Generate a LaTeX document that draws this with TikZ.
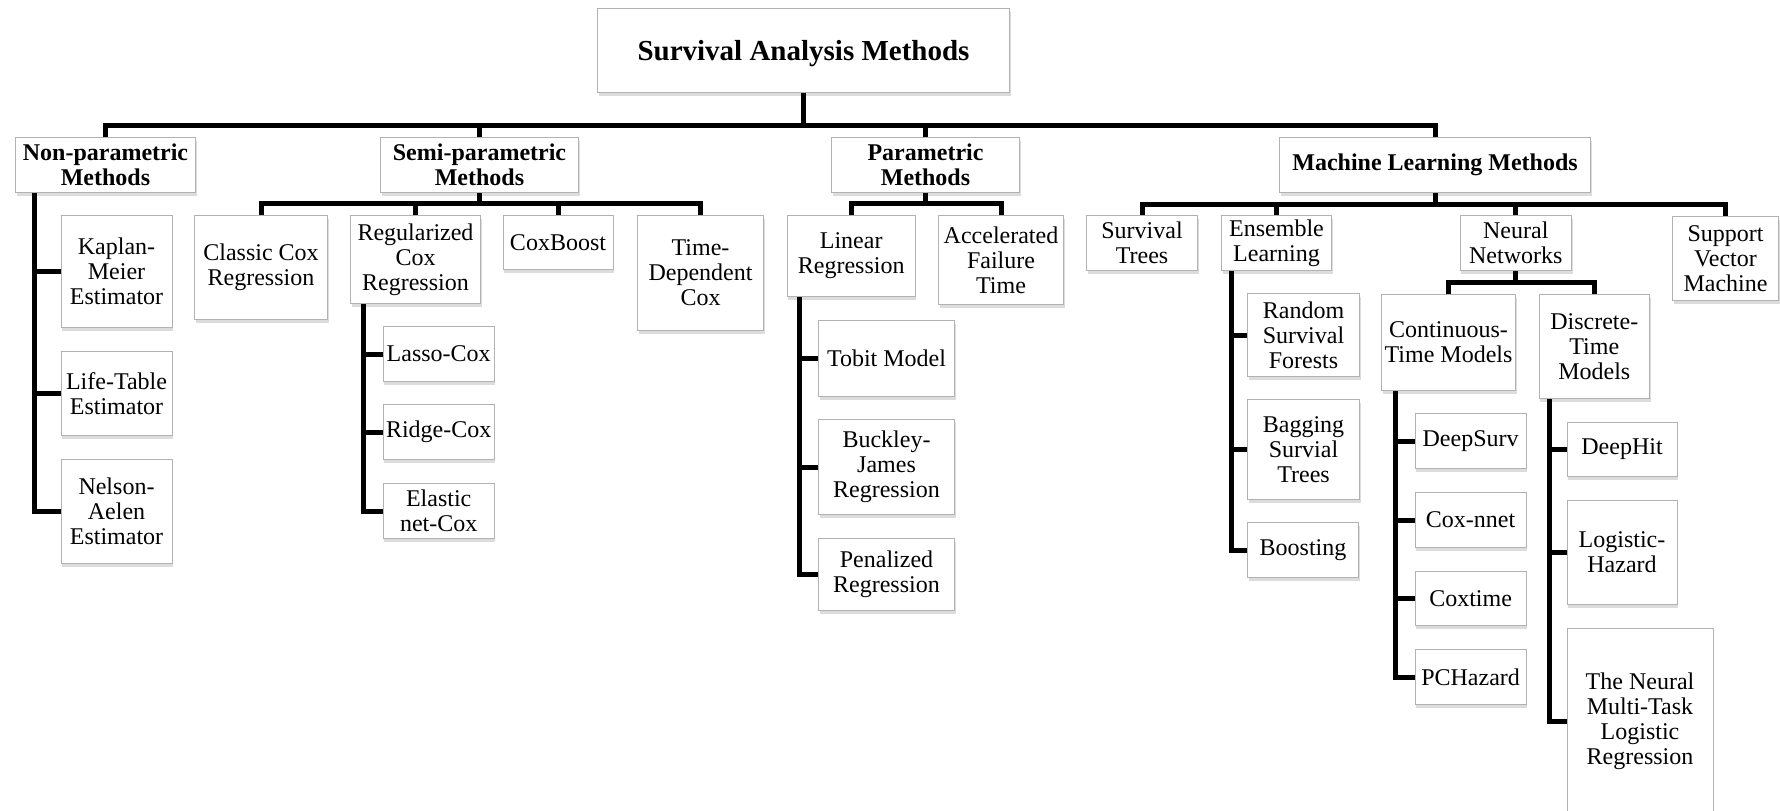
\documentclass[tikz,border=0pt]{standalone}
\usepackage{fontspec}
\setmainfont{Liberation Serif}
\usepackage{tikz}
\usetikzlibrary{shadows}

\begin{document}
\begin{tikzpicture}[x=1pt,y=-1pt,
    box/.style={draw=gray!60,line width=1pt,fill=white,align=center,inner sep=0pt,anchor=north west,
      font=\fontsize{24}{25}\selectfont,
      drop shadow={shadow xshift=1pt,shadow yshift=-3pt,opacity=.3,fill=black!45}},
    head/.style={box,font=\fontsize{24}{25}\selectfont\bfseries},
    link/.style={line width=5pt,line join=miter}]
    \clip (0,0) rectangle (1780,811);
    \fill[white] (0,0) rectangle (1780,811);
    \node[head,minimum width=412pt,minimum height=84pt,text depth=0pt,font=\fontsize{29}{31}\selectfont\bfseries] (title) at (597,8) {Survival Analysis Methods};
    \node[head,minimum width=180pt,minimum height=55pt] (nonpar) at (15,137) {Non-parametric\\Methods};
    \node[head,minimum width=198pt,minimum height=55pt] (semi) at (380,137) {Semi-parametric\\Methods};
    \node[head,minimum width=188pt,minimum height=55pt] (param) at (831,137) {Parametric\\Methods};
    \node[head,minimum width=311pt,minimum height=55pt] (ml) at (1279,137) {Machine Learning Methods};
    \node[box,minimum width=111pt,minimum height=112pt] (km) at (60.5,215) {Kaplan-\\Meier\\Estimator};
    \node[box,minimum width=111pt,minimum height=84pt] (lt) at (60.5,351) {Life-Table\\Estimator};
    \node[box,minimum width=111pt,minimum height=104pt] (na) at (60.5,459) {Nelson-\\Aelen\\Estimator};
    \node[box,minimum width=133pt,minimum height=104pt] (classic) at (194,215) {Classic Cox\\Regression};
    \node[box,minimum width=130pt,minimum height=88pt] (reg) at (350,215) {Regularized\\Cox\\Regression};
    \node[box,minimum width=110pt,minimum height=54pt] (coxboost) at (502.5,215) {CoxBoost};
    \node[box,minimum width=126pt,minimum height=115pt] (timedep) at (637,215) {Time-\\Dependent\\Cox};
    \node[box,minimum width=111pt,minimum height=55pt] (lasso) at (382.7,326) {Lasso-Cox};
    \node[box,minimum width=111pt,minimum height=55pt] (ridge) at (382.7,404) {Ridge-Cox};
    \node[box,minimum width=111pt,minimum height=55pt] (elastic) at (382.7,483) {Elastic\\net-Cox};
    \node[box,minimum width=128pt,minimum height=81pt] (linear) at (786.7,215) {Linear\\Regression};
    \node[box,minimum width=125pt,minimum height=89pt] (aft) at (938,215) {Accelerated\\Failure\\Time};
    \node[box,minimum width=136pt,minimum height=76pt] (tobit) at (818,320) {Tobit Model};
    \node[box,minimum width=136pt,minimum height=95pt] (bj) at (818,419) {Buckley-\\James\\Regression};
    \node[box,minimum width=136pt,minimum height=72pt] (pen) at (818,538) {Penalized\\Regression};
    \node[box,minimum width=111pt,minimum height=55pt] (strees) at (1086,215) {Survival\\Trees};
    \node[box,minimum width=110pt,minimum height=55pt] (ens) at (1221,215) {Ensemble\\Learning};
    \node[box,minimum width=111.5pt,minimum height=55pt] (nn) at (1459.5,215) {Neural\\Networks};
    \node[box,minimum width=106pt,minimum height=84pt] (svm) at (1672,216) {Support\\Vector\\Machine};
    \node[box,minimum width=112pt,minimum height=83pt] (rsf) at (1247,293) {Random\\Survival\\Forests};
    \node[box,minimum width=112pt,minimum height=100pt] (bag) at (1247,399) {Bagging\\Survial\\Trees};
    \node[box,minimum width=111pt,minimum height=55pt] (boost) at (1247,522) {Boosting};
    \node[box,minimum width=134pt,minimum height=96pt] (cont) at (1381,294) {Continuous-\\Time Models};
    \node[box,minimum width=110.5pt,minimum height=104pt] (disc) at (1538.5,294) {Discrete-\\Time\\Models};
    \node[box,minimum width=111pt,minimum height=55pt] (deepsurv) at (1414.6,413) {DeepSurv};
    \node[box,minimum width=111pt,minimum height=55pt] (coxnnet) at (1414.6,492) {Cox-nnet};
    \node[box,minimum width=111pt,minimum height=54pt] (coxtime) at (1414.6,571) {Coxtime};
    \node[box,minimum width=111pt,minimum height=55pt] (pch) at (1414.6,649) {PCHazard};
    \node[box,minimum width=110pt,minimum height=54pt] (deephit) at (1566.5,422) {DeepHit};
    \node[box,minimum width=110pt,minimum height=104pt] (loghaz) at (1566.5,500) {Logistic-\\Hazard};
    \node[box,minimum width=146pt,minimum height=186pt] (mtlr) at (1566.5,628) {The Neural\\Multi-Task\\Logistic\\Regression};
    \coordinate (bus) at (0,125);
    \coordinate (sbus) at (0,203);
    \coordinate (mbus) at (0,204);
    \coordinate (nbus) at (0,282);
    \foreach \y in {nonpar,semi,param,ml} \draw[link] (title.south) -- (title.south |- bus) -| (\y.north);
    \foreach \y in {classic,reg,coxboost,timedep} \draw[link] (semi.south) -- (semi.south |- sbus) -| (\y.north);
    \foreach \y in {linear,aft} \draw[link] (param.south) -- (param.south |- sbus) -| (\y.north);
    \foreach \y in {strees,ens,nn,svm} \draw[link] (ml.south) -- (ml.south |- mbus) -| (\y.north);
    \foreach \y in {cont,disc} \draw[link] (nn.south) -- (nn.south |- nbus) -| (\y.north);
    \foreach \x/\s/\y in {nonpar/19/km,nonpar/19/lt,nonpar/19/na,reg/13.6/lasso,reg/13.6/ridge,reg/13.6/elastic,
      linear/12.3/tobit,linear/12.3/bj,linear/12.3/pen,ens/10/rsf,ens/10/bag,ens/10/boost,
      cont/14/deepsurv,cont/14/coxnnet,cont/14/coxtime,cont/14/pch,disc/10.5/deephit,disc/10.5/loghaz,disc/10.5/mtlr}
      \draw[link] ([xshift=\s pt]\x.south west) |- (\y.west);
  \end{tikzpicture}
\end{document}
